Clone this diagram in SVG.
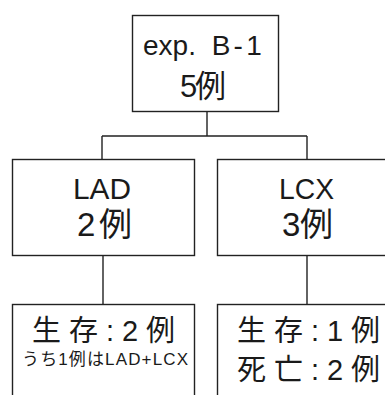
<svg xmlns="http://www.w3.org/2000/svg" width="385" height="395" viewBox="0 0 385 395">
<style>
.box{fill:#fff;stroke:#222;stroke-width:1.4}
.conn{fill:none;stroke:#222;stroke-width:1.4}
text{font-family:"Liberation Sans","Noto Sans CJK JP",sans-serif;fill:#1a1a1a}
</style>
<rect x="0" y="0" width="385" height="395" fill="#fff"/>
<g id="connectors" class="conn">
<path d="M207 111.5V136M102 136H307M102 136V159.5M307 136V159.5"/>
<path d="M103 255.5V304.5"/>
<path d="M307 255.5V304.5"/>
</g>
<g id="root">
<rect class="box" x="132.5" y="15.5" width="146" height="96"/>
<text x="143" y="55" font-size="28">exp. <tspan dx="8" textLength="50">B-1</tspan></text>
<text x="180" y="97" font-size="31" textLength="46">5例</text>
</g>
<g id="lad">
<rect class="box" x="12.5" y="159.5" width="182" height="96"/>
<text x="73" y="199" font-size="30" textLength="58" lengthAdjust="spacingAndGlyphs">LAD</text>
<text x="77" y="236" font-size="33" textLength="55">2例</text>
</g>
<g id="lcx">
<rect class="box" x="217.5" y="159.5" width="200" height="96"/>
<text x="279" y="199" font-size="30" textLength="55" lengthAdjust="spacingAndGlyphs">LCX</text>
<text x="282" y="236" font-size="33" textLength="51">3例</text>
</g>
<g id="lad-outcome">
<rect class="box" x="12.5" y="304.5" width="182" height="120"/>
<text x="32" y="341" font-size="29" textLength="143">生存:2例</text>
<text x="22" y="365" font-size="17" textLength="166">うち1例はLAD+LCX</text>
</g>
<g id="lcx-outcome">
<rect class="box" x="217.5" y="304.5" width="200" height="120"/>
<text x="237" y="341" font-size="29" textLength="143">生存:1例</text>
<text x="237" y="380" font-size="29" textLength="143">死亡:2例</text>
</g>
</svg>
